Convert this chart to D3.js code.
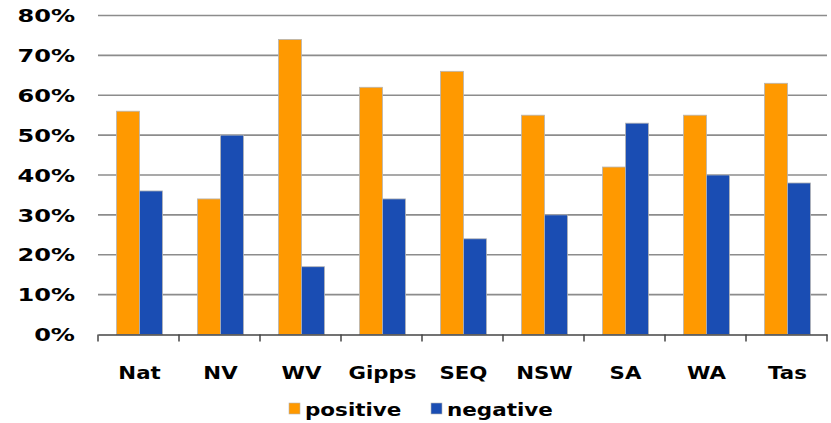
<!DOCTYPE html>
<html>
<head>
<meta charset="utf-8">
<script src="https://cdn.jsdelivr.net/npm/d3@7"></script>
<style>
  html, body { margin: 0; padding: 0; background: #fff; }
  svg text { font-family: "DejaVu Sans", Verdana, sans-serif; font-weight: bold; fill: #000; }
</style>
</head>
<body>
<svg id="chart" width="831" height="423"></svg>
<script>
// Regions and their share of positive / negative responses
const categories = ["Nat", "NV", "WV", "Gipps", "SEQ", "NSW", "SA", "WA", "Tas"];
const positive = [56, 34, 74, 62, 66, 55, 42, 55, 63];
const negative = [36, 50, 17, 34, 24, 30, 53, 40, 38];
const seriesNames = ["positive", "negative"];
const yTicks = [0, 10, 20, 30, 40, 50, 60, 70, 80];

const colors = { positive: "#FF9900", negative: "#1A4DB3" };

const svg = d3.select("#chart");
const margin = { left: 98, right: 4, top: 15.5, bottom: 88.5 };
const W = 831, H = 423;

const x = d3.scaleBand().domain(categories).range([margin.left, W - margin.right]).paddingInner(0).paddingOuter(0);
const y = d3.scaleLinear().domain([0, 80]).range([H - margin.bottom, margin.top]);
const xs = d3.scaleBand().domain(seriesNames).range([0, 46]);

// Widen a text run, Verdana-style, by stretching to a multiple of its natural length
function widen(sel, k) {
  sel.each(function () {
    const len = this.getComputedTextLength();
    d3.select(this).attr("textLength", len * k).attr("lengthAdjust", "spacingAndGlyphs");
  });
}

// Gridlines
svg.append("g")
  .selectAll("line")
  .data(yTicks.filter(d => d > 0))
  .join("line")
  .attr("x1", margin.left).attr("x2", W - margin.right)
  .attr("y1", d => y(d)).attr("y2", d => y(d))
  .attr("stroke", "#8c8c8c").attr("stroke-width", 1.6);

// Y-axis labels
svg.append("g")
  .selectAll("text")
  .data(yTicks)
  .join("text")
  .attr("x", 75).attr("y", d => y(d))
  .attr("dy", "0.36em")
  .attr("text-anchor", "end")
  .attr("font-size", 18.5)
  .text(d => d + "%")
  .call(widen, 1.3);

// Bars
const rows = categories.map((c, i) => ({ cat: c, positive: positive[i], negative: negative[i] }));
const groups = svg.append("g").selectAll("g")
  .data(rows)
  .join("g")
  .attr("transform", d => `translate(${x(d.cat) + x.bandwidth() / 2 - 22},0)`);

groups.selectAll("rect")
  .data(d => seriesNames.map(s => ({ s, v: d[s] })))
  .join("rect")
  .attr("x", d => xs(d.s))
  .attr("width", xs.bandwidth())
  .attr("y", d => y(d.v))
  .attr("height", d => y(0) - y(d.v))
  .attr("fill", d => colors[d.s])
  .attr("stroke", "#b5b5b5").attr("stroke-width", 0.8);

// X axis
const xAxis = d3.axisBottom(x).tickSize(0).tickFormat("");
const ax = svg.append("g").attr("transform", `translate(0,${y(0)})`).call(xAxis);
ax.select(".domain").attr("stroke", "#444").attr("stroke-width", 1.5);
ax.selectAll(".tick").remove();

// Category boundary ticks
const bounds = categories.map(c => x(c)).concat([x(categories[categories.length - 1]) + x.bandwidth()]);
svg.append("g").selectAll("line")
  .data(bounds)
  .join("line")
  .attr("x1", d => d).attr("x2", d => d)
  .attr("y1", y(0)).attr("y2", y(0) + 7)
  .attr("stroke", "#444").attr("stroke-width", 1.5);

// Category labels
svg.append("g").selectAll("text")
  .data(categories)
  .join("text")
  .attr("x", d => x(d) + x.bandwidth() / 2 + 1)
  .attr("y", 379)
  .attr("text-anchor", "middle")
  .attr("font-size", 18.5)
  .text(d => d)
  .call(widen, 1.15);

// Legend
const legend = svg.append("g");
const legendItems = [{ s: "positive", x: 289 }, { s: "negative", x: 431 }];
legend.selectAll("rect")
  .data(legendItems)
  .join("rect")
  .attr("x", d => d.x).attr("y", 403)
  .attr("width", 11).attr("height", 11)
  .attr("fill", d => colors[d.s])
  .attr("stroke", "#b5b5b5").attr("stroke-width", 0.6);
legend.selectAll("text")
  .data(legendItems)
  .join("text")
  .attr("x", d => d.x + 16).attr("y", 416)
  .attr("font-size", 18.5)
  .text(d => d.s)
  .call(widen, 1.16);
</script>
</body>
</html>
